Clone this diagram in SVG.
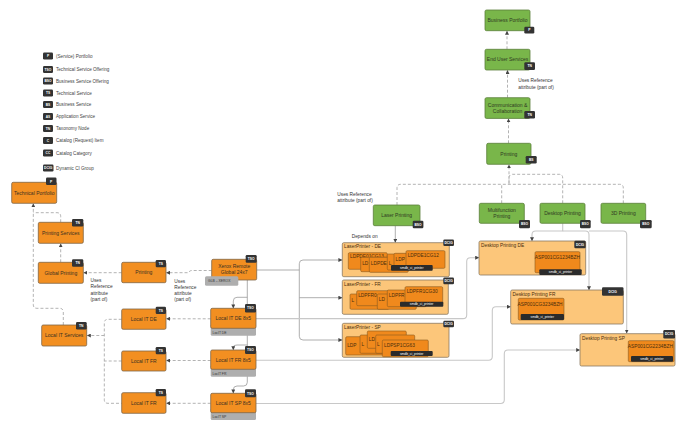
<svg xmlns="http://www.w3.org/2000/svg" width="685" height="428" viewBox="0 0 685 428">
<style>
text{font-family:"Liberation Sans",Arial,sans-serif}
.or{fill:#f28f21;stroke:#7d6446;stroke-width:0.8}
.gr{fill:#79b64a;stroke:#5b7f3a;stroke-width:0.8}
.lo{fill:#fcc67a;stroke:#8a7a62;stroke-width:0.8}
.in{fill:#f0891c;stroke:#8a5a20;stroke-width:0.6}
.gy{fill:#aeaeae}
.bd{fill:#333}
.bt{fill:#fff;font-size:3.3px;font-weight:bold;text-anchor:middle}
.nt{font-size:5px;fill:#3a2f22;text-anchor:middle}
.gt{font-size:5px;fill:#2f3a22;text-anchor:middle}
.lt{font-size:4.6px;fill:#444}
.st{font-size:3.4px;fill:#333}
.it{font-size:4.8px;fill:#4a2e0c}
.dl{fill:#2b2b2b}
.dt{font-size:3.3px;fill:#fff;text-anchor:middle}
.an{font-size:4.8px;fill:#333}
.dash{fill:none;stroke:#aaa;stroke-width:0.9;stroke-dasharray:3 2}
.sol{fill:none;stroke:#9a9a9a;stroke-width:0.8}
.sl{fill:none;stroke:#c8c8c8;stroke-width:1.1}
</style>
<defs>
<marker id="ar" markerUnits="userSpaceOnUse" markerWidth="4" markerHeight="4" refX="3.6" refY="2" orient="auto">
<path d="M0,0 L4,2 L0,4 z" fill="#444"/>
</marker>
</defs>

<g id="legend">
<rect class="bd" x="43" y="52.5" width="10" height="7" rx="1.2"/><text class="bt" x="48" y="57.2">P</text><text class="lt" x="56" y="57.8">(Service) Portfolio</text>
<rect class="bd" x="43" y="66" width="10" height="7" rx="1.2"/><text class="bt" x="48" y="70.7">TSO</text><text class="lt" x="56" y="71.3">Technical Service Offering</text>
<rect class="bd" x="43" y="77.5" width="10" height="7" rx="1.2"/><text class="bt" x="48" y="82.2">BSO</text><text class="lt" x="56" y="82.8">Business Service Offering</text>
<rect class="bd" x="43" y="89.5" width="10" height="7" rx="1.2"/><text class="bt" x="48" y="94.2">TS</text><text class="lt" x="56" y="94.8">Technical Service</text>
<rect class="bd" x="43" y="101" width="10" height="7" rx="1.2"/><text class="bt" x="48" y="105.7">BS</text><text class="lt" x="56" y="106.3">Business Service</text>
<rect class="bd" x="43" y="113" width="10" height="7" rx="1.2"/><text class="bt" x="48" y="117.7">AS</text><text class="lt" x="56" y="118.3">Application Service</text>
<rect class="bd" x="43" y="125" width="10" height="7" rx="1.2"/><text class="bt" x="48" y="129.7">TN</text><text class="lt" x="56" y="130.3">Taxonomy Node</text>
<rect class="bd" x="43" y="137" width="10" height="7" rx="1.2"/><text class="bt" x="48" y="141.7">C</text><text class="lt" x="56" y="142.3">Catalog (Request) Item</text>
<rect class="bd" x="43" y="149.5" width="10" height="7" rx="1.2"/><text class="bt" x="48" y="154.2">CC</text><text class="lt" x="56" y="154.8">Catalog Category</text>
<rect class="bd" x="43" y="164.5" width="10.5" height="7" rx="1.2"/><text class="bt" x="48.2" y="169.2">DCIG</text><text class="lt" x="56" y="169.8">Dynamic CI Group</text>
</g>

<g id="connectors">
<path class="dash" d="M507,49.3 V31.2" marker-end="url(#ar)"/>
<path class="dash" d="M507.5,97.7 V70.5" marker-end="url(#ar)"/>
<path class="dash" d="M508.5,143.3 V118.8" marker-end="url(#ar)"/>
<path class="dash" d="M509,184.3 V164.8" marker-end="url(#ar)"/>
<path class="dash" d="M397,205 V188 Q397,184.3 400.7,184.3 H619.6 Q623.3,184.3 623.3,188 V203.3"/>
<path class="dash" d="M501.7,203.3 V184.3"/>
<path class="dash" d="M562.7,203.3 V178 Q562.7,174.3 559,174.3 H512.7 Q509,174.3 509,178 V184.3"/>
<path class="sol" d="M395.3,225.7 V242.3" stroke="#777" marker-end="url(#ar)"/>
<path class="dash" d="M211.7,270.5 H192 Q189.5,270.5 188.5,272.7 H166.5" marker-end="url(#ar)"/>
<path class="dash" d="M121.7,272.7 H83.8" marker-end="url(#ar)"/>
<path class="dash" d="M60.7,262.3 V243.8" marker-end="url(#ar)"/>
<path class="dash" d="M60.7,222.3 V216.4 Q60.7,212.7 57,212.7 H33.3"/>
<path class="dash" d="M63.3,325 V312 Q63.3,308.3 59.6,308.3 H37 Q33.3,308.3 33.3,304.6 V203.8" marker-end="url(#ar)"/>
<path class="dash" d="M121.7,319.3 H108 Q104.3,319.3 104.3,323 V399.6 Q104.3,403.3 108,403.3 H121.7"/>
<path class="dash" d="M121.7,361 H104.3"/>
<path class="dash" d="M104.3,335.5 H87.2" marker-end="url(#ar)"/>
<path class="dash" d="M210.7,318.8 H166.5" marker-end="url(#ar)"/>
<path class="dash" d="M210.7,360.5 H166.5" marker-end="url(#ar)"/>
<path class="dash" d="M210.7,403.3 H166.5" marker-end="url(#ar)"/>
<path class="sol" d="M247.3,280 V382.3 Q247.3,386 243.6,386 H237 Q233.3,386 233.3,389.7 V393" marker-end="url(#ar)"/>
<path class="sol" d="M247.3,297.3 H237 Q233.3,297.3 233.3,301 V308" marker-end="url(#ar)"/>
<path class="sol" d="M247.3,345 H237 Q233.3,345 233.3,347 V349.8" marker-end="url(#ar)"/>
<path class="sol" d="M256.7,270 H299.3"/>
<path class="sol" d="M299.3,270 V263.7 Q299.3,260 303,260 H342" marker-end="url(#ar)"/>
<path class="sol" d="M299.3,270 V336.3 Q299.3,340 303,340 H342" marker-end="url(#ar)"/>
<path class="sol" d="M299.3,297.7 H342" marker-end="url(#ar)"/>
<path class="sl" d="M256,318.6 H463 Q466.7,318.6 466.7,314.9 V261.4 Q466.7,257.7 470.4,257.7 H478.8" marker-end="url(#ar)"/>
<path class="sl" d="M256,360.3 H488.6 Q492.3,360.3 492.3,356.6 V310.4 Q492.3,306.7 496,306.7 H510.5" marker-end="url(#ar)"/>
<path class="sl" d="M256,403.5 H500.6 Q504.3,403.5 504.3,399.8 V353.7 Q504.3,350 508,350 H579.8" marker-end="url(#ar)"/>
<path class="sl" d="M562.7,223.3 V231 H535.7 Q532,231 532,234.7 V240.8" marker-end="url(#ar)"/>
<path class="sl" d="M562.7,231 H585.3 Q589,231 589,234.7 V289.8" marker-end="url(#ar)"/>
<path class="sl" d="M589,231 H623 Q626.7,231 626.7,234.7 V333.1" marker-end="url(#ar)"/>
</g>

<g id="labels">
<text class="an" x="90.5" y="282">Uses</text><text class="an" x="90.5" y="288.3">Reference</text><text class="an" x="90.5" y="294.6">attribute</text><text class="an" x="90.5" y="300.9">(part of)</text>
<text class="an" x="174.3" y="282.5">Uses</text><text class="an" x="174.3" y="288.8">Reference</text><text class="an" x="174.3" y="295.1">attribute</text><text class="an" x="174.3" y="301.4">(part of)</text>
<text class="an" x="337.3" y="195.5">Uses Reference</text><text class="an" x="337.3" y="201.8">attribute (part of)</text>
<text class="an" x="518.3" y="81.5">Uses Reference</text><text class="an" x="518.3" y="88.6">attribute (part of)</text>
<text class="an" x="351.7" y="238.3">Depends on</text>
</g>

<g id="technicalPortfolio"><rect class="or" x="11.7" y="182.3" width="45" height="21" rx="1.5"/><text class="nt" x="34.2" y="194.5">Technical Portfolio</text><rect class="bd" x="46" y="177.5" width="10.5" height="7.5" rx="1.2"/><text class="bt" x="51.2" y="182.5">P</text></g>
<g id="printingServices"><rect class="or" x="38.3" y="222.3" width="45" height="21" rx="1.5"/><text class="nt" x="60.8" y="234.5">Printing Services</text><rect class="bd" x="72" y="219" width="11.3" height="7.5" rx="1.2"/><text class="bt" x="77.6" y="224">TN</text></g>
<g id="globalPrinting"><rect class="or" x="38.3" y="262.3" width="45" height="21" rx="1.5"/><text class="nt" x="60.8" y="274.5">Global Printing</text><rect class="bd" x="72" y="259.3" width="11.3" height="7.5" rx="1.2"/><text class="bt" x="77.6" y="264.3">TN</text></g>
<g id="localITServices"><rect class="or" x="41.7" y="325" width="45" height="21" rx="1.5"/><text class="nt" x="64.2" y="337.2">Local IT Services</text><rect class="bd" x="76" y="322" width="10.7" height="7.5" rx="1.2"/><text class="bt" x="81.3" y="327">TN</text></g>

<g id="printingTS"><rect class="or" x="121.7" y="262.3" width="44.3" height="20.4" rx="1.5"/><text class="nt" x="143.8" y="274.3">Printing</text><rect class="bd" x="155.7" y="260" width="10.3" height="7.3" rx="1.2"/><text class="bt" x="160.8" y="264.9">TS</text></g>
<g id="localITDE"><rect class="or" x="121.7" y="309" width="44.3" height="20.3" rx="1.5"/><text class="nt" x="143.8" y="320.9">Local IT DE</text><rect class="bd" x="155.7" y="306.7" width="10.3" height="7.3" rx="1.2"/><text class="bt" x="160.8" y="311.6">TS</text></g>
<g id="localITFR"><rect class="or" x="121.7" y="351" width="44.3" height="20" rx="1.5"/><text class="nt" x="143.8" y="362.7">Local IT FR</text><rect class="bd" x="155.7" y="347" width="10.3" height="7.3" rx="1.2"/><text class="bt" x="160.8" y="351.9">TS</text></g>
<g id="localITFR2"><rect class="or" x="121.7" y="392.7" width="44.3" height="20.6" rx="1.5"/><text class="nt" x="143.8" y="404.6">Local IT FR</text><rect class="bd" x="155.7" y="389" width="10.3" height="7.3" rx="1.2"/><text class="bt" x="160.8" y="393.9">TS</text></g>

<g id="xeroxRemote"><rect class="or" x="211.7" y="259.3" width="45" height="20.7" rx="1.5"/><text class="nt" x="234.2" y="267.8">Xerox Remote</text><text class="nt" x="234.2" y="274.3">Global 24x7</text><rect class="gy" x="205" y="276.3" width="33.3" height="9.4" rx="1.5"/><text class="st" x="208" y="282.3">GLB – XEROX</text><rect class="bd" x="245.7" y="255" width="11" height="7.7" rx="1.2"/><text class="bt" x="251.2" y="260.1">TSO</text></g>
<g id="localITDE85"><rect class="gy" x="210.7" y="324" width="45.3" height="11.7" rx="1.5"/><rect class="or" x="210.7" y="308.3" width="45.3" height="20" rx="1.5"/><text class="nt" x="233.3" y="320">Local IT DE 8x5</text><text class="st" x="212.5" y="333.5">LocIT DE</text><rect class="bd" x="245" y="304" width="11" height="8.4" rx="1.2"/><text class="bt" x="250.5" y="309.4">TSO</text></g>
<g id="localITFR85"><rect class="gy" x="210.7" y="365" width="45.3" height="11.7" rx="1.5"/><rect class="or" x="210.7" y="350" width="45.3" height="19.3" rx="1.5"/><text class="nt" x="233.3" y="361.5">Local IT FR 8x5</text><text class="st" x="212.5" y="374.5">LocIT FR</text><rect class="bd" x="245" y="346" width="11" height="8" rx="1.2"/><text class="bt" x="250.5" y="351.2">TSO</text></g>
<g id="localITSP85"><rect class="gy" x="210.7" y="408" width="45.3" height="12" rx="1.5"/><rect class="or" x="210.7" y="393.3" width="45.3" height="19.4" rx="1.5"/><text class="nt" x="233.3" y="404.8">Local IT SP 8x5</text><text class="st" x="212.5" y="417.8">LocIT SP</text><rect class="bd" x="245" y="389.3" width="11" height="8" rx="1.2"/><text class="bt" x="250.5" y="394.5">TSO</text></g>

<g id="businessPortfolio"><rect class="gr" x="485" y="10" width="45" height="20.7" rx="1.5"/><text class="gt" x="507.5" y="22">Business Portfolio</text><rect class="bd" x="524.3" y="26.7" width="10" height="6.8" rx="1.2"/><text class="bt" x="529.3" y="31.3">P</text></g>
<g id="endUserServices"><rect class="gr" x="485" y="49.3" width="45" height="20.7" rx="1.5"/><text class="gt" x="507.5" y="61.3">End User Services</text><rect class="bd" x="524.3" y="62.3" width="10.7" height="7.7" rx="1.2"/><text class="bt" x="529.6" y="67.3">TN</text></g>
<g id="commCollab"><rect class="gr" x="485" y="97.7" width="45" height="20.7" rx="1.5"/><text class="gt" x="507.5" y="106.5">Communication &amp;</text><text class="gt" x="507.5" y="113">Collaboration</text><rect class="bd" x="524.3" y="111" width="10.7" height="7.5" rx="1.2"/><text class="bt" x="529.6" y="115.9">TN</text></g>
<g id="printingBS"><rect class="gr" x="486.7" y="143.3" width="44.3" height="21" rx="1.5"/><text class="gt" x="508.8" y="155.5">Printing</text><rect class="bd" x="525.7" y="156" width="11" height="7.5" rx="1.2"/><text class="bt" x="531.2" y="160.9">BS</text></g>
<g id="laserPrinting"><rect class="gr" x="373.3" y="205" width="46.7" height="20.7" rx="1.5"/><text class="gt" x="396.6" y="217">Laser Printing</text><rect class="bd" x="412.7" y="220.7" width="10.7" height="7.6" rx="1.2"/><text class="bt" x="418" y="225.7">BSO</text></g>
<g id="multifunctionPrinting"><rect class="gr" x="479.3" y="203.3" width="45" height="20" rx="1.5"/><text class="gt" x="501.8" y="211.8">Multifunction</text><text class="gt" x="501.8" y="218.3">Printing</text><rect class="bd" x="519" y="220" width="11" height="8.3" rx="1.2"/><text class="bt" x="524.5" y="225.4">BSO</text></g>
<g id="desktopPrinting"><rect class="gr" x="540" y="203.3" width="45" height="20" rx="1.5"/><text class="gt" x="562.5" y="215">Desktop Printing</text><rect class="bd" x="580" y="220" width="10.7" height="8.3" rx="1.2"/><text class="bt" x="585.3" y="225.4">BSO</text></g>
<g id="printing3D"><rect class="gr" x="601" y="203.3" width="44.7" height="20" rx="1.5"/><text class="gt" x="623.3" y="215">3D Printing</text><rect class="bd" x="640" y="220" width="11.7" height="8.3" rx="1.2"/><text class="bt" x="645.8" y="225.4">BSO</text></g>

<g id="laserPrinterDE">
<rect class="lo" x="342.3" y="242.7" width="107" height="34" rx="1.5"/>
<text class="it" x="344" y="248">LaserPrinter -  DE</text>
<rect class="in" x="348.3" y="252.7" width="39" height="16.6" rx="1.2"/><text class="it" x="350" y="258.3">LDPDE01CG13</text>
<rect class="in" x="360.7" y="257.3" width="39" height="14.4" rx="1.2"/><text class="it" x="362.2" y="265.3">LD</text>
<rect class="in" x="369.3" y="257.3" width="39" height="15" rx="1.2"/><text class="it" x="370.8" y="265.3">LDPDE</text>
<rect class="in" x="387.3" y="254" width="39" height="16" rx="1.2"/><text class="it" x="388.8" y="265.3">L</text>
<rect class="in" x="394" y="253.3" width="39" height="15" rx="1.2"/><text class="it" x="395.5" y="260.5">LDP</text>
<rect class="in" x="406" y="250.7" width="39" height="17.6" rx="1.2"/><text class="it" x="407.7" y="257.3">LDPDE1CG12</text>
<rect class="dl" x="391" y="265" width="41.7" height="5.7" rx="1"/><text class="dt" x="411.8" y="269">smdb_ci_printer</text>
<rect class="bd" x="443.3" y="239.5" width="10.7" height="6.5" rx="1.2"/><text class="bt" x="448.6" y="244">DCIG</text>
</g>
<g id="laserPrinterFR">
<rect class="lo" x="342.3" y="280" width="106" height="34.3" rx="1.5"/>
<text class="it" x="344" y="285.5">LaserPrinter -  FR</text>
<rect class="in" x="350" y="294" width="39" height="15.3" rx="1.2"/><text class="it" x="351.4" y="302">L</text>
<rect class="in" x="356.7" y="290.7" width="39" height="15" rx="1.2"/><text class="it" x="358.2" y="297">LDPFR0</text>
<rect class="in" x="377.3" y="294" width="39" height="15.3" rx="1.2"/><text class="it" x="378.8" y="300.5">LD</text>
<rect class="in" x="387.3" y="290" width="39" height="16.7" rx="1.2"/><text class="it" x="388.8" y="296.5">LDPFR</text>
<rect class="in" x="405" y="286.7" width="37.7" height="18.3" rx="1.2"/><text class="it" x="406.7" y="293.3">LDPFR1CG30</text>
<rect class="dl" x="400" y="301.7" width="43.3" height="5" rx="1"/><text class="dt" x="421.6" y="305.3">smdb_ci_printer</text>
<rect class="bd" x="443.3" y="277.5" width="10.7" height="6.8" rx="1.2"/><text class="bt" x="448.6" y="282.1">DCIG</text>
</g>
<g id="laserPrinterSP">
<rect class="lo" x="342.3" y="323.3" width="106.7" height="34" rx="1.5"/>
<text class="it" x="344" y="328.6">LaserPrinter -  SP</text>
<rect class="in" x="345.7" y="336.7" width="39" height="18.3" rx="1.2"/><text class="it" x="347.2" y="347">LDP</text>
<rect class="in" x="360" y="335" width="39" height="18.3" rx="1.2"/><text class="it" x="361.5" y="345.5">L</text>
<rect class="in" x="367.3" y="331" width="39" height="17.3" rx="1.2"/><text class="it" x="368.8" y="340.5">LD</text>
<rect class="in" x="375.7" y="335" width="39" height="18.3" rx="1.2"/><text class="it" x="377" y="346">L</text>
<rect class="in" x="382.3" y="340" width="46" height="16.7" rx="1.2"/><text class="it" x="384" y="347.2">LDPSP1CG63</text>
<rect class="dl" x="390.7" y="351" width="42" height="5" rx="1"/><text class="dt" x="411.7" y="354.6">smdb_ci_printer</text>
<rect class="bd" x="443.3" y="320.7" width="10.7" height="6.6" rx="1.2"/><text class="bt" x="448.6" y="325.2">DCIG</text>
</g>

<g id="desktopPrintingDE">
<rect class="lo" x="479" y="241" width="106.7" height="34" rx="1.5"/>
<text class="it" x="481" y="246.7">Desktop Printing DE</text>
<rect class="in" x="535" y="251.7" width="45" height="21" rx="1.2"/><text class="it" x="534.8" y="258.5">ASP001CG1234BZH</text>
<rect class="dl" x="539.3" y="269.3" width="42.4" height="5.7" rx="1"/><text class="dt" x="560.5" y="273.2">smdb_ci_printer</text>
<rect class="bd" x="574.3" y="240.7" width="11.4" height="7.6" rx="1.2"/><text class="bt" x="580" y="245.6">DCIG</text>
</g>
<g id="desktopPrintingFR">
<rect class="lo" x="510.7" y="290" width="112.6" height="34" rx="1.5"/>
<text class="it" x="512.5" y="295.7">Desktop Printing FR</text>
<rect class="in" x="518.3" y="298.3" width="45.7" height="21.7" rx="1.2"/><text class="it" x="517.5" y="306">ASP001CG3234BZH</text>
<rect class="dl" x="520.7" y="314" width="43.3" height="6" rx="1"/><text class="dt" x="542.3" y="318">smdb_ci_printer</text>
<rect class="bd" x="602" y="287.3" width="21.5" height="8.4" rx="1.2"/><text class="bt" x="612.7" y="292.7">DCIG</text>
</g>
<g id="desktopPrintingSP">
<rect class="lo" x="580" y="333.7" width="95" height="32.3" rx="1.5"/>
<text class="it" x="582" y="339.5">Desktop Printing SP</text>
<rect class="in" x="628.3" y="340.7" width="45.7" height="21" rx="1.2"/><text class="it" x="627.8" y="348">ASP001CG2234BZH</text>
<rect class="dl" x="631" y="356" width="42" height="5.7" rx="1"/><text class="dt" x="652" y="359.9">smdb_ci_printer</text>
<rect class="bd" x="663.3" y="330" width="11.7" height="8.5" rx="1.2"/><text class="bt" x="669.1" y="335.3">DCIG</text>
</g>
</svg>
